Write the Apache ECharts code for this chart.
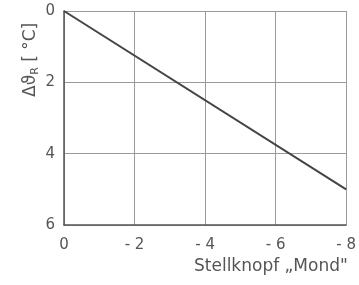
<!DOCTYPE html>
<html>
<head>
<meta charset="utf-8">
<script src="https://cdn.jsdelivr.net/npm/echarts@6/dist/echarts.min.js"></script>
<style>
	html, body { margin: 0; padding: 0; background: #fff; }
	#chart { width: 359px; height: 285px; }
</style>
</head>
<body>
<div id="chart"></div>
<script>
// Stellknopf-Stellung und Temperaturabsenkung (Endpunkte der Geraden)
var knobPos = [0, -8];
var deltaT = [0, 5];
var xTicks = [0, -2, -4, -6, -8];
var yTicks = [0, 2, 4, 6];

var lineData = knobPos.map(function(x, i) {
	return [x, deltaT[i]];
});

var axisColor = '#555';
var gridColor = '#9a9a9a';

var chart = echarts.init(document.getElementById('chart'));
chart.setOption({
	animation: false,
	grid: {
		left: 64,
		right: 7,
		top: 11,
		bottom: 60
	},
	xAxis: {
		type: 'value',
		min: -8,
		max: 0,
		interval: 2,
		inverse: true,
		axisLine: {
			show: true,
			onZero: false,
			lineStyle: { color: axisColor, width: 1.5 }
		},
		axisTick: { show: false },
		splitLine: {
			show: true,
			lineStyle: { color: gridColor, width: 1 }
		},
		axisLabel: {
			color: '#555',
			fontSize: 15,
			fontFamily: 'DejaVu Sans',
			margin: 13,
			formatter: function(value) {
				return value === 0 ? '0' : '- ' + Math.abs(value);
			}
		}
	},
	yAxis: {
		type: 'value',
		min: 0,
		max: 6,
		interval: 2,
		inverse: true,
		axisLine: {
			show: true,
			onZero: false,
			lineStyle: { color: axisColor, width: 1.5 }
		},
		axisTick: { show: false },
		splitLine: {
			show: true,
			lineStyle: { color: gridColor, width: 1 }
		},
		axisLabel: {
			color: '#555',
			fontSize: 15,
			fontFamily: 'DejaVu Sans',
			margin: 9
		}
	},
	graphic: [{
		type: 'text',
		left: 194,
		top: 258,
		style: {
			text: 'Stellknopf „Mond"',
			fill: '#555',
			font: '17px "DejaVu Sans"'
		}
	}, {
		type: 'text',
		x: 21,
		y: 97,
		rotation: Math.PI / 2,
		style: {
			text: '{m|Δϑ}{s|R}{m| [ °C]}',
			rich: {
				m: { fontSize: 17, fill: '#555', fontFamily: 'DejaVu Sans' },
				s: { fontSize: 11, fill: '#555', fontFamily: 'DejaVu Sans', padding: [9, 0, 0, 0] }
			},
			verticalAlign: 'top'
		}
	}],
	series: [{
		type: 'line',
		data: lineData,
		symbol: 'none',
		lineStyle: { color: '#444', width: 2 }
	}]
});
</script>
</body>
</html>
